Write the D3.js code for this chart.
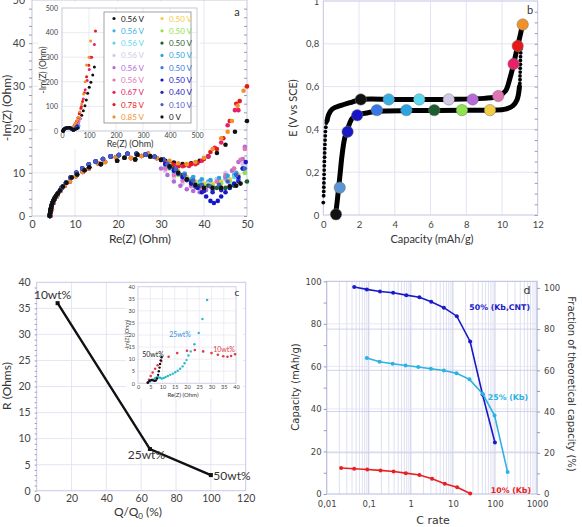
<!DOCTYPE html>
<html>
<head>
<meta charset="utf-8">
<script src="https://cdn.jsdelivr.net/npm/d3@7"></script>
<style>
  body { margin: 0; background: #fff; }
  svg { display: block; }
</style>
</head>
<body>
<svg id="fig" width="582" height="527"></svg>
<script>
// ---------- panel a : impedance spectra ----------
const aLegend = ['0.56 V', '0.56 V', '0.56 V', '0.56 V', '0.56 V', '0.56 V', '0.67 V', '0.78 V', '0.85 V',
  '0.50 V', '0.50 V', '0.50 V', '0.50 V', '0.50 V', '0.50 V', '0.40 V', '0.10 V', '0 V']
const aColors = ['#111111', '#3ab0e0', '#5cd8ec', '#d4c8e8', '#b46ad8', '#e274b4', '#e8206a', '#e81818', '#f0922c',
  '#f2cc44', '#8ee24e', '#1e5e2e', '#2aa4e0', '#3878e6', '#1616c8', '#2222c0', '#4a5cc4', '#111111']
// which low-frequency arc each spectrum follows
const aArcOf = ['B', 'A', 'A', 'A', 'A', 'C', 'C', 'C', 'C', 'A', 'A', 'B', 'A', 'A', 'A', 'A', 'A', 'B']

const arcA = [[4.2, 0], [4.3, 1], [4.5, 2], [4.8, 3], [5.3, 4], [6, 5.2], [6.9, 6.5], [7.9, 7.7], [9, 8.9], [10.3, 10],
  [11.7, 11], [13.2, 11.9], [14.8, 12.6], [16.5, 13.2], [18.3, 13.8], [20.2, 14.1], [22.2, 14.4], [24.3, 14.4],
  [26.4, 14.2], [28.5, 13.7], [30.5, 13.1]]
const arcB = [[4.1, 0], [4.15, 0.3], [4.2, 0.6], [4.25, 0.9], [4.3, 1.2], [4.35, 1.5], [4.4, 1.8], [4.5, 2.2], [4.6, 2.6],
  [4.75, 3], [4.9, 3.4], [5.1, 3.8], [5.3, 4.2], [5.6, 4.7], [6, 5.2], [6.5, 5.9], [7.2, 6.8], [8, 7.7], [9.2, 8.9],
  [10.5, 9.6], [12.2, 10.6], [13.3, 11.3], [16, 12], [19.8, 12.8], [21.5, 13.5], [24, 13.1], [24.5, 14.2], [27.5, 13.8], [30, 13]]
const arcC = [[4.3, 0], [4.6, 1.5], [5, 3], [5.8, 4.5], [6.6, 5.8], [7.6, 7], [8.8, 8], [10.2, 9.2], [11.8, 10.2], [13.2, 11],
  [15.3, 12.2], [17, 12.5], [19.5, 13.6], [23, 13.4], [25.5, 13.9], [27, 14.4], [29, 13.4]]

const aTails = [
  [[31, 12.8], [33, 12.4], [35, 12], [37, 12.2], [39, 12.8], [41, 13.8], [43, 14.6], [45, 16.5], [47.2, 19.5]],
  [[31, 12], [33, 10.5], [35, 9.5], [37, 8.5], [39, 8], [41, 8], [43, 8.5], [45, 9], [47, 9.5], [49, 11]],
  [[31, 11.5], [33, 10], [35, 9], [37, 8], [39, 7.5], [41, 7.5], [43, 8], [45, 8.5], [47, 9], [49.5, 10]],
  [[31, 10.5], [33, 9], [35, 7.5], [37, 6.8], [39, 6.5], [41, 7.5], [43, 8.5], [45, 10], [47, 11], [49, 12]],
  [[30, 11], [31.5, 9.5], [33, 8], [34.5, 7], [36, 6.2], [37.5, 5.8], [39, 5.5], [40.5, 6], [42, 6.8], [43.5, 7.8],
    [45, 9], [46.5, 10.5], [48, 12.5], [49, 13.2], [49.5, 16]],
  [[31, 11], [33, 9.5], [35, 8.2], [37, 7], [39, 6.5], [41, 7], [43, 8], [45, 9.5], [47, 11], [48.5, 13], [49.5, 15.5]],
  [[31.5, 12.3], [33, 11.8], [35, 11.5], [36.5, 11.6], [38, 12], [39.5, 12.8], [41, 13.8], [42.5, 15.8], [44, 17],
    [45.5, 21], [47.2, 24.5], [48, 24.5]],
  [[31, 12.5], [32.5, 12], [34, 11.5], [35.5, 11.7], [37, 12], [38.5, 12.3], [40, 13.2], [41.5, 14.8], [43, 15.5],
    [44.5, 18], [46, 22], [47.5, 26], [48.3, 26.6]],
  [[32, 12.8], [34, 12.2], [36, 12], [38, 12.5], [40, 13.5], [42, 15.5], [44, 18], [45.5, 19.5], [46.5, 22],
    [47.8, 25.5], [49.2, 29]],
  [[32, 11.8], [34, 10.5], [36, 9], [38, 8], [40, 7.5], [42, 7.5], [44, 8], [46, 8.5], [48, 9.5]],
  [[32, 11], [34, 9.5], [36, 8.5], [38, 7.5], [40, 7], [42, 7], [44, 7.5], [46, 8], [48, 9], [49.5, 10]],
  [[33, 11], [35, 9.5], [37, 8], [39, 7], [41, 7], [43, 6.5], [45, 6.5], [47, 7]],
  [[31.5, 12.2], [33.5, 10.8], [35.5, 9.8], [37.5, 9], [39.5, 8.5], [41.5, 8.3], [43.5, 8.8], [45.5, 9.3], [47.5, 10]],
  [[32, 11.5], [34, 10], [36, 8.5], [38, 7], [40, 6], [42, 6], [44, 6.5], [46, 7], [48, 8.5]],
  [[31, 12], [33, 10.5], [35, 9], [37, 7.5], [38.5, 6.5], [39.5, 5.5], [40.5, 4.5], [41.5, 3.5], [42.3, 3], [43.2, 3.5],
    [44, 4.5], [45, 5.5], [46, 6.5], [47, 7.5], [48, 9], [49, 11], [49.7, 12.5]],
  [[32, 11.2], [34, 9.8], [36, 8.3], [38, 6.8], [40, 5.8], [42, 5.5], [44, 6], [46, 6.8], [48, 8]],
  [[31.5, 12], [33.5, 10.8], [35.5, 9.5], [37.5, 8.2], [39.5, 7.2], [41.5, 6.8], [43.5, 7.2], [45.5, 8], [47.5, 9.5], [49.5, 11]],
  [[32, 11.5], [34, 10], [36, 8.5], [38, 7.2], [40, 6.5], [42, 6.5], [44, 6.5], [46, 6.8], [47.5, 7], [48.5, 7.5]]
]
// points past 50 Ohm, only seen in the inset
const aFar = [
  [[50, 22], [55, 29], [61, 38], [67, 50], [73, 64], [79, 82], [85, 103], [90, 126], [95, 153], [101, 178], [107, 198], [114, 228], [120, 260]],
  [[52, 12], [55, 14], [58, 17], [61, 21]],
  [[52, 11], [56, 13], [60, 16], [63, 22]],
  [[51, 13], [55, 16]],
  [[50.5, 14.5], [53, 18], [57, 24], [61, 30]],
  [[50.5, 17], [54, 22], [58, 29], [63, 38], [68, 50]],
  [[51, 30], [55, 40], [60, 55], [66, 75], [72, 100], [79, 130], [86, 168], [93, 205], [101, 250], [110, 300], [120, 352]],
  [[50, 30], [54, 40], [59, 53], [64, 70], [70, 92], [76, 120], [83, 155], [91, 221], [99, 267], [105, 300], [124, 406]],
  [[51, 33], [55, 42], [60, 56], [66, 78], [73, 110], [80, 150], [86, 200], [91, 268], [100, 300], [106, 366]],
  [[51, 11], [54, 13]],
  [[52, 11], [55, 13]],
  [[50, 8], [54, 10]],
  [[51, 11], [55, 13], [59, 16], [62, 19]],
  [[51, 10], [55, 12], [59, 15]],
  [[51, 14], [53, 17], [56, 21]],
  [[51, 10], [54, 12]],
  [[51, 12], [54, 14]],
  [[51, 8.5], [55, 10], [60, 12]]
]

// ---------- panel b : charge / discharge ----------
const bUpperLine = [[0.21, 0.44], [0.3, 0.47], [0.5, 0.495], [1, 0.512], [1.5, 0.525], [2.1, 0.54], [4, 0.54], [7, 0.54],
  [9, 0.545], [9.8, 0.555], [10.2, 0.58], [10.45, 0.64], [10.65, 0.705], [10.88, 0.79], [11.05, 0.85], [11.14, 0.89]]
const bLowerLine = [[0.68, 0], [0.76, 0.05], [0.85, 0.12], [0.95, 0.2], [1.05, 0.28], [1.2, 0.36], [1.36, 0.4], [1.6, 0.45],
  [1.9, 0.467], [2.5, 0.478], [3, 0.485], [5, 0.488], [8, 0.489], [9.5, 0.49], [10.2, 0.495], [10.6, 0.51], [10.85, 0.54], [10.98, 0.6]]
const bUpperDots = [[0, 0.058], [0.02, 0.09], [0.025, 0.11], [0.03, 0.13], [0.035, 0.15], [0.04, 0.17], [0.045, 0.19],
  [0.05, 0.21], [0.055, 0.23], [0.06, 0.25], [0.07, 0.27], [0.075, 0.29], [0.08, 0.31], [0.09, 0.33], [0.1, 0.35],
  [0.11, 0.37], [0.12, 0.39], [0.14, 0.41], [0.17, 0.43]]
const bLowerDots = [[11.0, 0.615], [11.01, 0.632], [11.01, 0.65], [11.02, 0.668], [11.02, 0.686], [11.03, 0.704],
  [11.03, 0.722], [11.04, 0.74], [11.05, 0.758], [11.06, 0.776]]
const bCircles = [[2.1, 0.54], [3.66, 0.54], [5.37, 0.54], [7.02, 0.54], [8.36, 0.54], [9.79, 0.556], [10.65, 0.706],
  [10.88, 0.79], [11.16, 0.89], [9.33, 0.49], [7.76, 0.49], [6.21, 0.49], [4.65, 0.49], [3.0, 0.49], [1.9, 0.466],
  [1.36, 0.389], [0.92, 0.128], [0.71, 0.003]]
const bColors = aColors.map((c, i) => i === 16 ? '#5b94d0' : (i === 15 ? '#1a1ac4' : c))
const bYTicks = [0, 0.2, 0.4, 0.6, 0.8, 1]
const bYTickLabels = ['0', '0,2', '0,4', '0,6', '0,8', '1']

// ---------- panel c : resistance vs capacity ----------
const cQ = [12, 65, 100]
const cR = [36, 8, 3]
const cNames = ['10wt%', '25wt%', '50wt%']
const cIn10 = [[4, 0.3], [4.5, 1.5], [5.2, 3], [6, 4.5], [7, 6], [8, 7.5], [9.5, 9.2], [12.5, 11], [16, 12.5], [20, 13.5],
  [23.2, 13.8], [26.6, 13.2], [30, 12.5], [32.6, 11.8], [34.8, 11.2], [36.5, 11], [38, 11.3], [39.6, 12]]
const cIn25 = [[4, 0.2], [5, 0.8], [6, 1.5], [6.8, 2], [7.5, 2.4], [8.2, 2.6], [9, 2.3], [9.7, 2], [10.5, 2.2], [11.3, 2.6],
  [12.2, 3], [13.2, 3.5], [14.2, 4], [15.2, 4.6], [16.2, 5.2], [17.2, 6], [18.2, 7], [19, 8.3], [19.8, 9.6], [20.6, 11.5],
  [21.5, 13.2], [23, 16.2], [24.8, 20.8], [26.3, 26.6], [28.2, 34.5]]
const cIn50 = [[4, 0.2], [4.5, 0.8], [5, 1.2], [5.6, 1.4], [6.2, 1.2], [6.8, 1], [7.3, 1.2], [7.8, 2], [8.2, 3.5], [8.5, 5],
  [8.8, 6.5], [9, 8], [9.3, 9.5], [9.6, 10.8]]

// ---------- panel d : rate capability ----------
const dRate50 = [0.045, 0.09, 0.185, 0.38, 0.78, 1.6, 3.05, 6.1, 12.4, 25.7, 50.7, 100]
const dCap50 = [97.3, 96.2, 95.2, 94.6, 93.5, 92.5, 90.4, 87.6, 83.6, 71.7, 46.8, 24.2]
const dRate25 = [0.09, 0.18, 0.37, 0.75, 1.5, 3, 6.1, 12.2, 24.8, 51, 98, 200]
const dCap25 = [63.9, 62.2, 61.2, 60.4, 59.7, 58.9, 58.1, 56.8, 53.9, 47.1, 36.9, 10.3]
const dRate10 = [0.022, 0.045, 0.092, 0.19, 0.39, 0.76, 1.6, 3.2, 6.4, 12.6, 25.8]
const dCap10 = [12.2, 11.9, 11.5, 11.1, 10.6, 9.8, 8.9, 7.2, 4.8, 3.2, 0.2]
const dXTicks = [0.01, 0.1, 1, 10, 100, 1000]
const dXTickLabels = ['0,01', '0,1', '1', '10', '100', '1000']

// ---------- drawing ----------
const svg = d3.select('#fig')
const LATO = 'Lato, "Open Sans", sans-serif'
const DV = '"DejaVu Sans", Verdana, sans-serif'

function styleAxis (g, size, family, color) {
  g.select('.domain').remove()
  g.selectAll('.tick line').attr('stroke', '#9a9ab0')
  g.selectAll('text').attr('font-size', size).attr('font-family', family).attr('fill', color || '#444')
}

function grid (g, x, y, xs, ys, color) {
  g.append('g').selectAll('line').data(xs).join('line')
    .attr('x1', d => x(d)).attr('x2', d => x(d))
    .attr('y1', y.range()[0]).attr('y2', y.range()[1])
    .attr('stroke', color).attr('stroke-width', 0.8)
  g.append('g').selectAll('line').data(ys).join('line')
    .attr('y1', d => y(d)).attr('y2', d => y(d))
    .attr('x1', x.range()[0]).attr('x2', x.range()[1])
    .attr('stroke', color).attr('stroke-width', 0.8)
}

function frame (g, x, y, color) {
  g.append('rect')
    .attr('x', x.range()[0]).attr('y', y.range()[1])
    .attr('width', x.range()[1] - x.range()[0]).attr('height', y.range()[0] - y.range()[1])
    .attr('fill', 'none').attr('stroke', color).attr('stroke-width', 1)
}

function dots (g, pts, x, y, r, color) {
  g.append('g').selectAll('circle').data(pts).join('circle')
    .attr('cx', d => x(d[0])).attr('cy', d => y(d[1])).attr('r', r).attr('fill', color)
}

function label (g, txt, x, y, size, opts = {}) {
  const t = g.append('text').attr('x', x).attr('y', y).text(txt)
    .attr('font-size', size).attr('font-family', opts.family || LATO)
    .attr('fill', opts.color || '#333').attr('text-anchor', opts.anchor || 'middle')
  if (opts.weight) t.attr('font-weight', opts.weight)
  if (opts.rotate) t.attr('transform', `rotate(${opts.rotate},${x},${y})`)
  return t
}

// ===== panel a =====
const gA = svg.append('g')
const xA = d3.scaleLinear([0, 50], [32, 247])
const yA = d3.scaleLinear([0, 50], [216, 0])
grid(gA, xA, yA, [10, 20, 30, 40], [10, 20, 30, 40], '#e2e2ec')
frame(gA, xA, yA, '#c8c8d8')
gA.append('g').attr('transform', 'translate(32,0)')
  .call(d3.axisLeft(yA).tickValues(d3.range(0, 50, 2)).tickSize(3).tickFormat(''))
  .call(g => styleAxis(g, 0, LATO))
gA.append('g').attr('transform', 'translate(247,0)')
  .call(d3.axisLeft(yA).tickValues(d3.range(0, 50, 2)).tickSize(3).tickFormat(''))
  .call(g => styleAxis(g, 0, LATO))
gA.append('g').attr('transform', 'translate(32,0)')
  .call(d3.axisLeft(yA).tickValues([0, 10, 20, 30, 40, 50]).tickSize(0).tickPadding(7))
  .call(g => styleAxis(g, 10.5, LATO))
gA.append('g').attr('transform', 'translate(0,216)')
  .call(d3.axisBottom(xA).tickValues([0, 10, 20, 30, 40, 50]).tickSize(0).tickPadding(5))
  .call(g => styleAxis(g, 10.5, LATO))
label(gA, '-Im(Z) (Ohm)', 11, 108, 12, { rotate: -90 })
label(gA, 'Re(Z) (Ohm)', 140, 243, 12)
label(gA, 'a', 237, 16, 11)

const arcs = { A: arcA, B: arcB, C: arcC }
const aSeries = aLegend.map((name, i) => arcs[aArcOf[i]].concat(aTails[i], aFar[i]))
aSeries.forEach((pts, i) => {
  dots(gA, pts.filter(d => d[0] <= 50.2 && d[1] <= 50), xA, yA, 2.3, aColors[i])
})

// inset of panel a
const xAi = d3.scaleLinear([0, 500], [62, 197])
const yAi = d3.scaleLinear([0, 500], [131, 8])
gA.append('rect').attr('x', 38).attr('y', 2).attr('width', 162).attr('height', 147).attr('fill', '#fff')
grid(gA, xAi, yAi, [100, 200, 300, 400], [100, 200, 300, 400], '#e6e6ee')
frame(gA, xAi, yAi, '#c8c8d8')
gA.append('g').attr('transform', 'translate(62,0)')
  .call(d3.axisLeft(yAi).tickValues([0, 100, 200, 300, 400, 500]).tickSize(0).tickPadding(4))
  .call(g => styleAxis(g, 7, LATO))
gA.append('g').attr('transform', 'translate(0,131)')
  .call(d3.axisBottom(xAi).tickValues([0, 100, 200, 300, 400, 500]).tickSize(0).tickPadding(2))
  .call(g => styleAxis(g, 7, LATO))
label(gA, '-Im(Z) (Ohm)', 46, 70, 8.5, { rotate: -90 })
label(gA, 'Re(Z) (Ohm)', 130, 147, 9)
aSeries.forEach((pts, i) => {
  dots(gA, pts, xAi, yAi, 1.5, aColors[i])
})

// legend
gA.append('rect').attr('x', 104).attr('y', 12).attr('width', 87).attr('height', 111)
  .attr('fill', '#fff').attr('stroke', '#8a8a8a').attr('stroke-width', 0.8)
const leg = gA.append('g').selectAll('g').data(aLegend).join('g')
  .attr('transform', (d, i) => `translate(${i < 9 ? 114 : 162},${18.5 + (i % 9) * 12.3})`)
leg.append('circle').attr('r', 1.6).attr('fill', (d, i) => aColors[i])
leg.append('text').attr('x', 7).attr('y', 3).text(d => d)
  .attr('font-size', 8).attr('font-family', LATO).attr('fill', (d, i) => aColors[i])

// ===== panel b =====
const gB = svg.append('g')
const xB = d3.scaleLinear([0, 12], [323.3, 537.7])
const yB = d3.scaleLinear([0, 1], [215, 1])
grid(gB, xB, yB, [2, 4, 6, 8, 10], [0.2, 0.4, 0.6, 0.8], '#dcdcf0')
frame(gB, xB, yB, '#c4c4e4')
gB.append('g').attr('transform', 'translate(537.7,0)')
  .call(d3.axisLeft(yB).tickValues(d3.range(0, 1, 0.05)).tickSize(3).tickFormat(''))
  .call(g => styleAxis(g, 0, LATO))
gB.append('g').attr('transform', 'translate(323.3,0)')
  .call(d3.axisLeft(yB).tickValues(bYTicks).tickSize(0).tickPadding(4).tickFormat((d, i) => bYTickLabels[i]))
  .call(g => styleAxis(g, 9.5, LATO))
gB.append('g').attr('transform', 'translate(0,215)')
  .call(d3.axisBottom(xB).tickValues([0, 2, 4, 6, 8, 10, 12]).tickSize(0).tickPadding(6))
  .call(g => styleAxis(g, 9.5, LATO))
label(gB, 'E (V vs SCE)', 297, 108, 11, { rotate: -90 })
label(gB, 'Capacity (mAh/g)', 432, 243, 11)
label(gB, 'b', 530, 14, 11)

const lineB = d3.line().x(d => xB(d[0])).y(d => yB(d[1])).curve(d3.curveCatmullRom)
gB.append('path').datum(bUpperLine).attr('d', lineB)
  .attr('fill', 'none').attr('stroke', '#000').attr('stroke-width', 5).attr('stroke-linecap', 'round')
gB.append('path').datum(bLowerLine).attr('d', lineB)
  .attr('fill', 'none').attr('stroke', '#000').attr('stroke-width', 5).attr('stroke-linecap', 'round')
dots(gB, bUpperDots, xB, yB, 1.9, '#000')
dots(gB, bLowerDots, xB, yB, 1.9, '#000')
gB.append('g').selectAll('circle').data(bCircles).join('circle')
  .attr('cx', d => xB(d[0])).attr('cy', d => yB(d[1])).attr('r', 5.7)
  .attr('fill', (d, i) => bColors[i]).attr('stroke', '#777').attr('stroke-width', 0.5)

// ===== panel c =====
const gC = svg.append('g')
const xC = d3.scaleLinear([0, 120], [36.7, 245.7])
const yC = d3.scaleLinear([0, 40], [490.7, 282.3])
grid(gC, xC, yC, [20, 40, 60, 80, 100], [5, 10, 15, 20, 25, 30, 35], '#dedef2')
frame(gC, xC, yC, '#c8c8e6')
gC.append('g').attr('transform', 'translate(36.7,0)')
  .call(d3.axisLeft(yC).tickValues(d3.range(0, 40, 1)).tickSize(2).tickFormat(''))
  .call(g => styleAxis(g, 0, LATO))
gC.append('g').attr('transform', 'translate(36.7,0)')
  .call(d3.axisLeft(yC).tickValues(d3.range(0, 41, 5)).tickSize(0).tickPadding(6))
  .call(g => styleAxis(g, 10.5, LATO))
gC.append('g').attr('transform', 'translate(0,490.7)')
  .call(d3.axisBottom(xC).tickValues(d3.range(0, 121, 20)).tickSize(0).tickPadding(4))
  .call(g => styleAxis(g, 10.5, LATO))
label(gC, 'R (Ohms)', 11, 386, 12, { rotate: -90 })
const qLab = label(gC, 'Q/Q', 138, 516, 12)
qLab.append('tspan').text('0').attr('font-size', 8).attr('dy', 3)
qLab.append('tspan').text(' (%)').attr('dy', -3)

const cPts = cQ.map((q, i) => [q, cR[i]])
gC.append('path').datum(cPts)
  .attr('d', d3.line().x(d => xC(d[0])).y(d => yC(d[1])))
  .attr('fill', 'none').attr('stroke', '#111').attr('stroke-width', 2.4)
gC.append('g').selectAll('rect').data(cPts).join('rect')
  .attr('x', d => xC(d[0]) - 2).attr('y', d => yC(d[1]) - 2).attr('width', 4).attr('height', 4).attr('fill', '#111')
label(gC, cNames[0], xC(cQ[0]) - 5, yC(cR[0]) - 4.5, 12)
label(gC, cNames[1], xC(cQ[1]) - 3.5, yC(cR[1]) + 10, 12)
label(gC, cNames[2], xC(cQ[2]) + 2.5, yC(cR[2]) + 4.5, 12, { anchor: 'start' })

// inset of panel c
const xCi = d3.scaleLinear([0, 40], [138, 236])
const yCi = d3.scaleLinear([0, 40], [383.3, 286.7])
gC.append('rect').attr('x', 126).attr('y', 283).attr('width', 117).attr('height', 116).attr('fill', '#fff')
grid(gC, xCi, yCi, d3.range(5, 40, 5), d3.range(5, 40, 5), '#e8e8f2')
frame(gC, xCi, yCi, '#d0d0e4')
gC.append('g').attr('transform', 'translate(138,0)')
  .call(d3.axisLeft(yCi).tickValues(d3.range(0, 41, 5)).tickSize(0).tickPadding(3))
  .call(g => styleAxis(g, 5.5, LATO))
gC.append('g').attr('transform', 'translate(0,383.3)')
  .call(d3.axisBottom(xCi).tickValues(d3.range(0, 41, 5)).tickSize(0).tickPadding(2))
  .call(g => styleAxis(g, 5.5, LATO))
label(gC, '-Im(Z) (Ohm)', 129, 335, 5.5, { rotate: -90 })
label(gC, 'Re(Z) (Ohm)', 183, 397, 6)
label(gC, 'c', 237, 296, 10)
dots(gC, cIn10, xCi, yCi, 1.3, '#e03a4a')
dots(gC, cIn25, xCi, yCi, 1.2, '#2ab8cc')
dots(gC, cIn50, xCi, yCi, 1.2, '#111')
label(gC, cNames[0], 224, 352, 7, { color: '#e03a4a' })
label(gC, cNames[1], 180, 337, 7, { color: '#3a8ee0' })
label(gC, cNames[2], 153, 357, 7, { color: '#222' })

// ===== panel d =====
const gD = svg.append('g')
const xD = d3.scaleLog([0.01, 1000], [326.7, 537])
const yD = d3.scaleLinear([0, 100], [494, 281.3])
const yD2 = d3.scaleLinear([0, 103.2], [494, 281.3])
const minorD = []
dXTicks.slice(0, -1).forEach(p => d3.range(2, 10).forEach(k => minorD.push(p * k)))
grid(gD, xD, yD, minorD, [], '#d6d8ee')
grid(gD, xD, yD, dXTicks, [], '#b8bce0')
grid(gD, xD, yD2, [], [20, 40, 60, 80], '#c4c8e4')
grid(gD, xD, yD, [], [20, 40, 60, 80], '#e0e2f2')
frame(gD, xD, yD, '#b8bce0')
gD.append('g').attr('transform', 'translate(326.7,0)')
  .call(d3.axisLeft(yD).tickValues(d3.range(0, 101, 10)).tickSize(3).tickFormat(''))
  .call(g => styleAxis(g, 0, DV))
gD.append('g').attr('transform', 'translate(537,0)')
  .call(d3.axisRight(yD2).tickValues(d3.range(0, 101, 10)).tickSize(3).tickFormat(''))
  .call(g => styleAxis(g, 0, DV))
gD.append('g').attr('transform', 'translate(326.7,0)')
  .call(d3.axisLeft(yD).tickValues(d3.range(0, 101, 20)).tickSize(0).tickPadding(5))
  .call(g => styleAxis(g, 8.5, DV))
gD.append('g').attr('transform', 'translate(537,0)')
  .call(d3.axisRight(yD2).tickValues(d3.range(0, 101, 20)).tickSize(0).tickPadding(7))
  .call(g => styleAxis(g, 8.5, DV))
gD.append('g').attr('transform', 'translate(0,494)')
  .call(d3.axisBottom(xD).tickValues(dXTicks).tickSize(0).tickPadding(6.5).tickFormat((d, i) => dXTickLabels[i]))
  .call(g => styleAxis(g, 8.5, DV))
label(gD, 'Capacity (mAh/g)', 299, 387, 10, { rotate: -90, family: DV })
label(gD, 'Fraction of theoretical capacity (%)', 568, 384, 10, { rotate: 90, family: DV })
label(gD, 'C rate', 433, 524, 11, { family: DV })
label(gD, 'd', 527, 294, 11, { family: DV })

const dSeries = [
  { rate: dRate50, cap: dCap50, color: '#1a1ac8' },
  { rate: dRate25, cap: dCap25, color: '#2ab2e2' },
  { rate: dRate10, cap: dCap10, color: '#e82020' }
]
const lineD = d3.line().x(d => xD(d[0])).y(d => yD(d[1]))
dSeries.forEach(s => {
  const pts = s.rate.map((r, i) => [r, s.cap[i]])
  gD.append('path').datum(pts).attr('d', lineD)
    .attr('fill', 'none').attr('stroke', s.color).attr('stroke-width', 1.6)
  dots(gD, pts, xD, yD, 2, s.color)
})
label(gD, '50% (Kb,CNT)', 530, 310, 7.8, { family: DV, color: '#1a1ac8', anchor: 'end', weight: 'bold' })
label(gD, '25% (Kb)', 528, 400, 7.8, { family: DV, color: '#2ab2e2', anchor: 'end', weight: 'bold' })
label(gD, '10% (Kb)', 531, 493, 7.8, { family: DV, color: '#e82020', anchor: 'end', weight: 'bold' })
</script>
</body>
</html>
